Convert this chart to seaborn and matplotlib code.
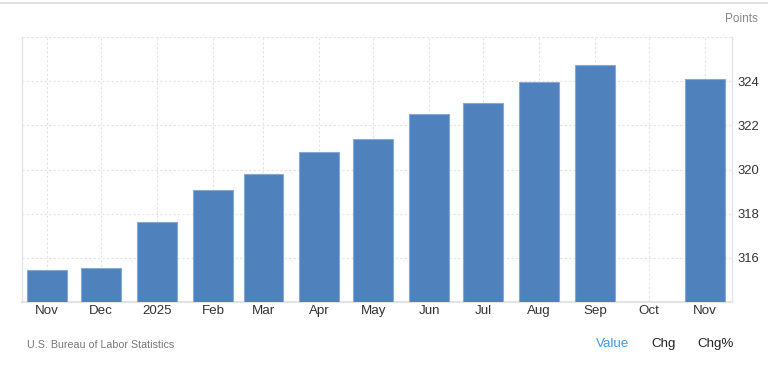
import matplotlib
matplotlib.use("Agg")
import matplotlib.pyplot as plt
import matplotlib.dates as mdates
from matplotlib.lines import Line2D
import seaborn as sns
import pandas as pd
import numpy as np

# ---- data ----
months = ["2024-11-01", "2024-12-01", "2025-01-01", "2025-02-01", "2025-03-01",
          "2025-04-01", "2025-05-01", "2025-06-01", "2025-07-01", "2025-08-01",
          "2025-09-01", "2025-10-01", "2025-11-01"]
values = [315.43, 315.56, 317.62, 319.06, 319.80, 320.77, 321.39, 322.51,
          323.00, 323.94, 324.74, np.nan, 324.08]
tick_labels = ["Nov", "Dec", "2025", "Feb", "Mar", "Apr", "May", "Jun",
               "Jul", "Aug", "Sep", "Oct", "Nov"]
y_ticks = [316, 318, 320, 322, 324]

sns.set_theme(style="white")
plt.rcParams['font.family'] = ['Liberation Sans', 'DejaVu Sans']

dates = pd.to_datetime(months)
xnum = mdates.date2num(dates)
df = pd.DataFrame({"x": xnum, "v": values}).dropna()

fig = plt.figure(figsize=(7.68, 3.70), dpi=100)
ax = fig.add_axes([22 / 768, 1 - 302 / 370, (732 - 22) / 768, (302 - 37) / 370])

sns.barplot(data=df, x="x", y="v", native_scale=True, width=0.79,
            color="#4f81bd", saturation=1, edgecolor="#86a8d4", linewidth=0.8,
            ax=ax, zorder=3)

ax.set_xlim(mdates.date2num(pd.Timestamp("2024-10-18")),
            mdates.date2num(pd.Timestamp("2025-11-16")))
ax.set_ylim(314, 326)

ax.set_xticks(xnum)
ax.set_xticklabels(tick_labels)
ax.set_yticks(y_ticks)
ax.set_yticklabels([str(t) for t in y_ticks])
ax.yaxis.tick_right()
ax.set_xlabel("")
ax.set_ylabel("")

ax.tick_params(axis="x", length=0, pad=2.5, labelsize=9.6, labelcolor="#333333")
ax.tick_params(axis="y", length=0, pad=4, labelsize=9.4, labelcolor="#333333")

ax.grid(True, axis="both", linestyle=(0, (2, 2)), color="#e3e3e3", linewidth=0.8, zorder=0)
ax.axhline(326, linestyle=(0, (2, 2)), color="#e3e3e3", linewidth=0.8, zorder=0)
ax.set_axisbelow(True)

ax.spines["top"].set_visible(False)
ax.spines["left"].set_color("#e4e4e4")
ax.spines["left"].set_linewidth(1.0)
ax.spines["right"].set_color("#e4e4e4")
ax.spines["right"].set_linewidth(1.0)
ax.spines["bottom"].set_color("#e4e4e4")
ax.spines["bottom"].set_linewidth(1.6)

# texts
fig.text(758 / 768, 1 - 19 / 370, "Points", ha="right", va="center",
         fontsize=8.5, color="#888888")
fig.text(27 / 768, 1 - 345 / 370, "U.S. Bureau of Labor Statistics", ha="left",
         va="center", fontsize=7.7, color="#777777")
fig.text(596 / 768, 1 - 344 / 370, "Value", ha="left", va="center",
         fontsize=9.6, color="#3b9cf2")
fig.text(651 / 768, 1 - 344 / 370, "Chg", ha="left", va="center",
         fontsize=9.6, color="#222222")
fig.text(697 / 768, 1 - 344 / 370, "Chg%", ha="left", va="center",
         fontsize=9.6, color="#222222")

# container border at top
fig.add_artist(Line2D([0, 1], [1 - 2.5 / 370, 1 - 2.5 / 370], transform=fig.transFigure,
                      color="#dddddd", linewidth=1.2))

fig.savefig("out.png", dpi=100)
